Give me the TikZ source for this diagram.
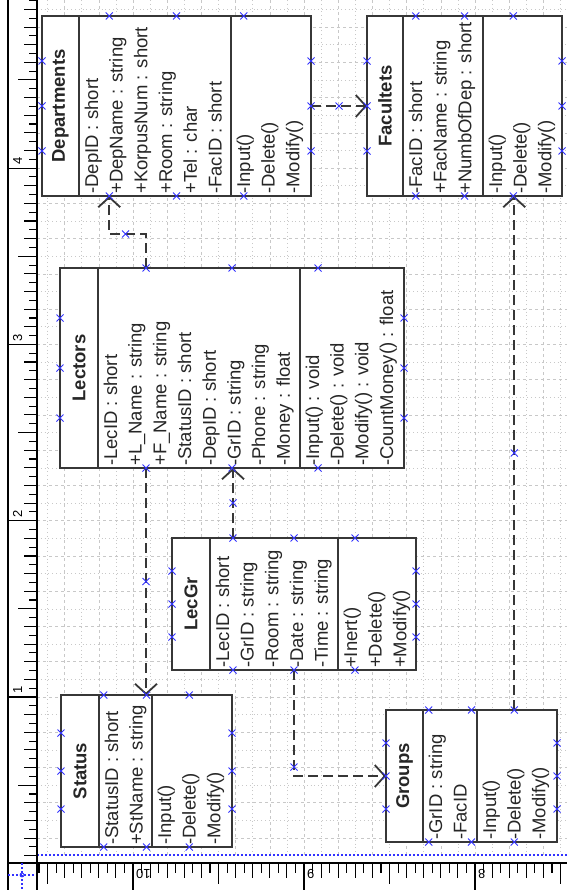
\documentclass[tikz,border=0pt]{standalone}
\usepackage{fontspec}
\setmainfont{Liberation Sans}
\usetikzlibrary{arrows.meta,calc}
\definecolor{mblue}{RGB}{50,50,255}
\definecolor{gridc}{RGB}{200,200,200}
\definecolor{linec}{RGB}{55,55,55}
\tikzset{
  classbox/.style={draw=linec, line width=1.9pt, fill=white, inner sep=0pt, outer sep=0pt},
  boxline/.style={draw=linec, line width=1.9pt},
  clsname/.style={font=\fontsize{18.5}{22}\selectfont\bfseries, text=black!85, inner sep=0pt},
  clstext/.style={font=\fontsize{18.5}{22}\selectfont, text=black!85, inner sep=0pt},
  depline/.style={draw=linec, line width=1.8pt, dash pattern=on 10pt off 5pt, -{Straight Barb[length=10pt,width=22pt]}},
  xmk/.pic={\draw[mblue, line width=0.9pt] (-3.5,-3.5) -- (3.5,3.5) (-3.5,3.5) -- (3.5,-3.5);},
  gridmajor/.style={draw=gridc, line width=0.6pt, dash pattern=on 3pt off 3pt},
  gridminor/.style={draw=gridc, line width=0.6pt, dash pattern=on 0.8pt off 3pt},
  rulerline/.style={draw=black, line width=1.2pt},
  tickline/.style={draw=black, line width=1.1pt},
  rlabel/.style={font=\fontsize{13}{14}\selectfont, inner sep=0pt},
  bluedot/.style={draw=mblue, line width=1.2pt, dash pattern=on 2pt off 2pt}
}
\newcommand\umlbox[8]{%
  \node[classbox, minimum width={#4-#2}, minimum height={#5-#3}] (#1) at ({(#2+#4)/2},{(#3+#5)/2}) {};
  \draw[boxline] (#6,#3) -- (#6,#5) (#7,#3) -- (#7,#5);
  \node[clsname, rotate=90] (#1-name) at ({(#2+#6)/2},{(#3+#5)/2}) {#8};
}
\newcommand\umllines[4]{%
  \foreach \itm [count=\i from 0] in {#4} {
    \node[clstext, rotate=90, anchor=base west] (#1\i) at ({#2+\i*24.7},{#3}) {\itm};
  }
}
\newcommand\boxmarks[1]{%
  \foreach \tt in {0.25,0.5,0.75} {
    \pic at ($(#1.north west)!\tt!(#1.north east)$) {xmk};
    \pic at ($(#1.south west)!\tt!(#1.south east)$) {xmk};
    \pic at ($(#1.north west)!\tt!(#1.south west)$) {xmk};
    \pic at ($(#1.north east)!\tt!(#1.south east)$) {xmk};
  }
}
\begin{document}
\begin{tikzpicture}[x=1pt,y=-1pt]
\useasboundingbox (0,0) rectangle (567,890);
\fill[white] (0,0) rectangle (567,890);
% grid
\foreach \k in {-15,...,15}{
  \pgfmathsetmacro\gx{304+\k*17.1}
  \pgfmathtruncatemacro\m{mod(abs(\k),2)}
  \ifnum\m=0 \draw[gridmajor] (\gx,0) -- (\gx,855);\else\draw[gridminor] (\gx,0) -- (\gx,855);\fi
}
\foreach \k in {-8,...,39}{
  \pgfmathsetmacro\gy{697-\k*17.63}
  \pgfmathtruncatemacro\m{mod(abs(\k),2)}
  \ifnum\m=0 \draw[gridmajor] (37,\gy) -- (567,\gy);\else\draw[gridminor] (37,\gy) -- (567,\gy);\fi
}
% page boundary
\draw[bluedot] (37,855) -- (567,855);
% rulers
\draw[rulerline] (8,0) -- (8,890);
\draw[rulerline] (37,0) -- (37,890);
\draw[rulerline] (8,863) -- (567,863);
\foreach \k in {-18,...,79}{
  \pgfmathsetmacro\yy{697-\k*8.815}
  \pgfmathtruncatemacro\ma{mod(abs(\k),20)}
  \pgfmathtruncatemacro\mb{mod(abs(\k),10)}
  \pgfmathtruncatemacro\mc{mod(abs(\k),2)}
  \ifnum\ma=0 \def\xs{8}\else\ifnum\mb=0 \def\xs{18}\else\ifnum\mc=0 \def\xs{24}\else\def\xs{29}\fi\fi\fi
  \draw[tickline] (\xs,\yy) -- (37,\yy);
}
\foreach \k in {-11,...,50}{
  \pgfmathsetmacro\xx{133+\k*8.55}
  \pgfmathtruncatemacro\ma{mod(abs(\k),20)}
  \pgfmathtruncatemacro\mb{mod(abs(\k),10)}
  \pgfmathtruncatemacro\mc{mod(abs(\k),2)}
  \ifnum\ma=0 \def\ye{890}\else\ifnum\mb=0 \def\ye{884}\else\ifnum\mc=0 \def\ye{878}\else\def\ye{873}\fi\fi\fi
  \draw[tickline] (\xx,863) -- (\xx,\ye);
}
\node[rlabel, rotate=90, anchor=base west] (lab1) at (22,694) {1};
\node[rlabel, rotate=90, anchor=base west] (lab2) at (22,517.7) {2};
\node[rlabel, rotate=90, anchor=base west] (lab3) at (22,341.4) {3};
\node[rlabel, rotate=90, anchor=base west] (lab4) at (22,165.1) {4};
\node[rlabel, rotate=180, anchor=base east] (lab10) at (136,869) {10};
\node[rlabel, rotate=180, anchor=base east] (lab9) at (307,869) {9};
\node[rlabel, rotate=180, anchor=base east] (lab8) at (478,869) {8};
\draw[bluedot] (22,863) -- (22,890);
\draw[bluedot] (8,875) -- (35,875);
\draw[mblue, line width=0.8pt] (22,875) circle[radius=2pt];
% classes
\umlbox{dep}{42}{16}{311}{196}{79}{231}{Departments}
\umllines{dep-a}{98}{194}{-DepID : short, +DepName : string, +KorpusNum : short, +Room : string, +Tel : char, -FacID : short}
\umllines{dep-o}{250}{194}{-Input(), -Delete(), -Modify()}
\umlbox{fac}{367}{16}{562}{196}{403}{483}{Facultets}
\umllines{fac-a}{422}{194}{-FacID : short, +FacName : string, +NumbOfDep : short}
\umllines{fac-o}{502}{194}{-Input(), -Delete(), -Modify()}
\umlbox{lec}{60}{268}{404}{468}{98}{300}{Lectors}
\umllines{lec-a}{117}{466}{-LecID : short, +L\_Name : string, +F\_Name : string, -StatusID : short, -DepID : short, -GrID : string, -Phone : string, -Money : float}
\umllines{lec-o}{319}{466}{-Input() : void, -Delete() : void, -Modify() : void, -CountMoney() : float}
\umlbox{lg}{172}{538}{416}{670}{210}{338}{LecGr}
\umllines{lg-a}{229}{668}{-LecID : short, -GrID : string, -Room : string, -Date : string, -Time : string}
\umllines{lg-o}{357}{668}{+Inert(), +Delete(), +Modify()}
\umlbox{st}{61}{695}{232}{847}{99}{152}{Status}
\umllines{st-a}{118}{845}{-StatusID : short, +StName : string}
\umllines{st-o}{171}{845}{-Input(), -Delete(), -Modify()}
\umlbox{gr}{386}{710}{557}{842}{423}{477}{Groups}
\umllines{gr-a}{442}{840}{-GrID : string, -FacID}
\umllines{gr-o}{496}{840}{-Input(), -Delete(), -Modify()}
% connectors
\coordinate (lecA) at ($(lec.north west)!.25!(lec.north east)$);
\coordinate (depA) at ($(dep.south west)!.25!(dep.south east)$);
\coordinate (j1) at (125.5,234);
\draw[depline] (lecA) |- (j1) -| (depA);
\draw[depline] (dep.east) -- (fac.west);
\coordinate (lecB) at ($(lec.south west)!.25!(lec.south east)$);
\coordinate (stT) at (lecB |- st.north);
\draw[depline] (lecB) -- (stT);
\coordinate (lgA) at ($(lg.north west)!.25!(lg.north east)$);
\coordinate (lecS) at (lgA |- lec.south);
\draw[depline] (lgA) -- (lecS);
\draw[depline] (lg.south) |- (gr.west);
\coordinate (grA) at ($(gr.north west)!.75!(gr.north east)$);
\coordinate (facS) at (grA |- fac.south);
\draw[depline] (grA) -- (facS);
% markers
\boxmarks{dep}\boxmarks{fac}\boxmarks{lec}\boxmarks{lg}\boxmarks{st}\boxmarks{gr}
\pic at (j1) {xmk};
\pic at ($(dep.east)!.5!(fac.west)$) {xmk};
\pic at ($(lecB)!.5!(stT)$) {xmk};
\pic at ($(lgA)!.5!(lecS)$) {xmk};
\pic at ($(lg.south)+(0,97)$) {xmk};
\pic at ($(grA)!.5!(facS)$) {xmk};
\end{tikzpicture}
\end{document}
